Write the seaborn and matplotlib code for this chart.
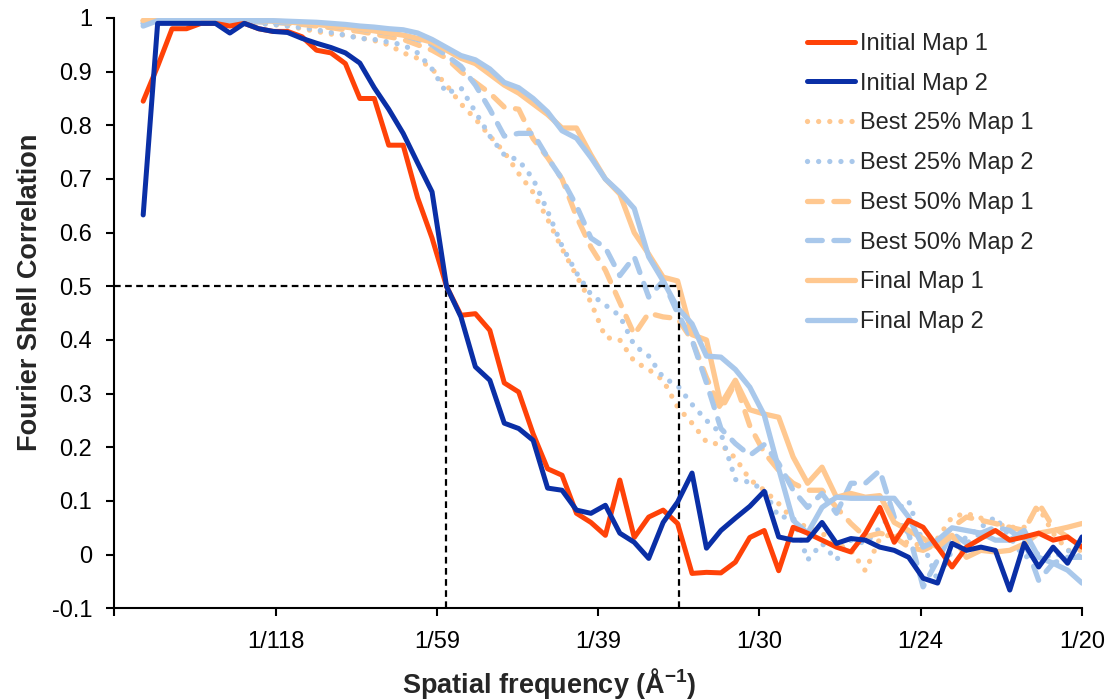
import numpy as np
import matplotlib
matplotlib.use("Agg")
import matplotlib.pyplot as plt
import seaborn as sns

# ---------------- data ----------------
# Fourier shells 2..67, spatial frequency = shell * step (1/Å)
shells = np.arange(2, 68)
shell_step = 0.05 / 67
spatial_freq = shells * shell_step

initial_map_1 = [0.845, 0.91, 0.98, 0.98, 0.99, 0.99, 0.985, 0.99, 0.98, 0.975,
                 0.975, 0.965, 0.94, 0.935, 0.915, 0.85, 0.85, 0.763, 0.763, 0.665,
                 0.59, 0.50, 0.446, 0.449, 0.418, 0.32, 0.303, 0.225, 0.16, 0.148,
                 0.077, 0.06, 0.036, 0.139, 0.032, 0.07, 0.083, 0.058, -0.035, -0.033,
                 -0.034, -0.014, 0.032, 0.045, -0.03, 0.051, 0.04, 0.027, 0.014, 0.005,
                 0.04, 0.088, 0.023, 0.064, 0.051, 0.014, -0.023, 0.014, 0.03, 0.045,
                 0.027, 0.033, 0.04, 0.027, 0.033, 0.014]

initial_map_2 = [0.633, 0.99, 0.99, 0.99, 0.99, 0.99, 0.972, 0.99, 0.98, 0.975,
                 0.973, 0.962, 0.953, 0.945, 0.935, 0.916, 0.87, 0.83, 0.785, 0.73,
                 0.676, 0.50, 0.443, 0.35, 0.325, 0.245, 0.235, 0.213, 0.124, 0.12,
                 0.083, 0.077, 0.092, 0.04, 0.023, -0.007, 0.06, 0.098, 0.152, 0.012,
                 0.045, 0.068, 0.09, 0.118, 0.033, 0.027, 0.027, 0.06, 0.021, 0.03,
                 0.027, 0.014, 0.008, -0.005, -0.044, -0.053, 0.021, 0.008, 0.014, 0.008,
                 -0.066, 0.021, -0.023, 0.014, -0.016, 0.033]

best25_map_1 = [0.995, 0.998, 0.998, 0.997, 0.996, 0.995, 0.993, 0.99, 0.99, 0.988,
                0.985, 0.98, 0.975, 0.97, 0.968, 0.963, 0.958, 0.95, 0.935, 0.925,
                0.905, 0.875, 0.84, 0.812, 0.78, 0.75, 0.71, 0.675, 0.625, 0.57,
                0.52, 0.47, 0.405, 0.40, 0.36, 0.345, 0.325, 0.275, 0.245, 0.21,
                0.205, 0.18, 0.14, 0.12, 0.095, 0.065, 0.05, 0.04, 0.02, 0.008,
                -0.03, 0.03, 0.04, 0.02, 0.018, 0.03, 0.07, 0.077, 0.068, 0.058,
                0.051, 0.051, 0.088, 0.04, 0.008, 0.008]

best25_map_2 = [0.99, 0.997, 0.997, 0.997, 0.997, 0.996, 0.995, 0.993, 0.99, 0.988,
                0.985, 0.982, 0.978, 0.973, 0.968, 0.962, 0.96, 0.955, 0.95, 0.935,
                0.905, 0.86, 0.87, 0.825, 0.78, 0.745, 0.735, 0.70, 0.64, 0.575,
                0.525, 0.485, 0.465, 0.445, 0.39, 0.37, 0.33, 0.315, 0.28, 0.25,
                0.226, 0.14, 0.135, 0.12, 0.07, 0.07, -0.01, 0.021, -0.01, 0.027,
                0.021, 0.05, 0.08, 0.10, 0.02, -0.048, 0.008, 0.033, 0.051, 0.07,
                0.033, -0.005, 0.002, -0.005, 0.008, -0.005]

best50_map_1 = [0.995, 0.998, 0.998, 0.998, 0.997, 0.996, 0.995, 0.994, 0.993, 0.992,
                0.99, 0.988, 0.985, 0.982, 0.978, 0.975, 0.97, 0.965, 0.96, 0.95,
                0.94, 0.925, 0.90, 0.88, 0.86, 0.834, 0.83, 0.775, 0.74, 0.70,
                0.63, 0.573, 0.53, 0.47, 0.41, 0.45, 0.443, 0.44, 0.40, 0.33,
                0.27, 0.32, 0.24, 0.19, 0.157, 0.133, 0.12, 0.12, 0.088, 0.058,
                0.033, 0.04, 0.033, 0.014, 0.008, 0.021, 0.051, 0.07, 0.064, 0.058,
                0.051, 0.045, 0.096, 0.051, 0.033, 0.014]

best50_map_2 = [0.99, 0.997, 0.997, 0.997, 0.996, 0.996, 0.995, 0.994, 0.993, 0.992,
                0.991, 0.99, 0.988, 0.985, 0.983, 0.98, 0.975, 0.972, 0.968, 0.96,
                0.95, 0.93, 0.91, 0.875, 0.83, 0.78, 0.785, 0.785, 0.74, 0.70,
                0.65, 0.59, 0.572, 0.52, 0.555, 0.48, 0.51, 0.45, 0.40, 0.32,
                0.235, 0.207, 0.185, 0.205, 0.17, 0.12, 0.088, 0.114, 0.077, 0.133,
                0.133, 0.157, 0.07, 0.04, -0.06, -0.01, 0.04, 0.021, 0.04, 0.051,
                0.045, 0.027, -0.048, -0.016, -0.005, -0.005]

final_map_1 = [0.995, 0.998, 0.998, 0.998, 0.998, 0.997, 0.997, 0.996, 0.995, 0.994,
               0.993, 0.99, 0.988, 0.985, 0.983, 0.98, 0.976, 0.972, 0.968, 0.962,
               0.955, 0.94, 0.925, 0.915, 0.895, 0.875, 0.86, 0.84, 0.82, 0.795,
               0.795, 0.745, 0.70, 0.672, 0.60, 0.56, 0.517, 0.51, 0.41, 0.40,
               0.28, 0.325, 0.27, 0.262, 0.256, 0.182, 0.133, 0.163, 0.107, 0.114,
               0.107, 0.11, 0.06, 0.045, 0.03, 0.014, 0.036, -0.005, 0.008, 0.005,
               0.008, 0.02, 0.04, 0.045, 0.051, 0.058]

final_map_2 = [0.985, 0.995, 0.997, 0.997, 0.997, 0.997, 0.996, 0.996, 0.995, 0.995,
               0.994, 0.993, 0.992, 0.99, 0.988, 0.985, 0.983, 0.98, 0.978, 0.972,
               0.96, 0.945, 0.93, 0.922, 0.905, 0.88, 0.87, 0.85, 0.825, 0.79,
               0.776, 0.74, 0.70, 0.675, 0.645, 0.555, 0.51, 0.46, 0.43, 0.37,
               0.368, 0.345, 0.312, 0.26, 0.16, 0.064, 0.04, 0.088, 0.107, 0.105,
               0.105, 0.105, 0.105, 0.07, 0.014, 0.027, 0.05, 0.045, 0.04, 0.027,
               0.027, 0.045, -0.005, -0.016, -0.029, -0.053]

series_labels = ["Initial Map 1", "Initial Map 2", "Best 25% Map 1", "Best 25% Map 2",
                 "Best 50% Map 1", "Best 50% Map 2", "Final Map 1", "Final Map 2"]
series_values = [initial_map_1, initial_map_2, best25_map_1, best25_map_2,
                 best50_map_1, best50_map_2, final_map_1, final_map_2]

# FSC = 0.5 resolution markers (1/Å)
fsc_threshold = 0.5
res_initial = 0.01716
res_final = 0.02918

x_tick_pos = [0, 1 / 120, 2 / 120, 3 / 120, 4 / 120, 5 / 120, 6 / 120]
x_tick_labels = ["", "1/118", "1/59", "1/39", "1/30", "1/24", "1/20"]
y_tick_pos = [-0.1, 0, 0.1, 0.2, 0.3, 0.4, 0.5, 0.6, 0.7, 0.8, 0.9, 1.0]
y_tick_labels = ["-0.1", "0", "0.1", "0.2", "0.3", "0.4", "0.5", "0.6", "0.7", "0.8", "0.9", "1"]

# ---------------- styles ----------------
RED = "#ff4208"
DBLUE = "#0a2fa6"
LORANGE = "#ffc890"
LBLUE = "#a9c8eb"
dotted = (0, (0.01, 2.1))
dashed = (0, (2.8, 2.2))
styles = [
    dict(color=RED, linestyle="-", lw=3.6, zorder=4),
    dict(color=DBLUE, linestyle="-", lw=3.6, zorder=5),
    dict(color=LORANGE, linestyle=dotted, lw=3.8, zorder=2),
    dict(color=LBLUE, linestyle=dotted, lw=3.8, zorder=2),
    dict(color=LORANGE, linestyle=dashed, lw=3.8, zorder=2),
    dict(color=LBLUE, linestyle=dashed, lw=3.8, zorder=2),
    dict(color=LORANGE, linestyle="-", lw=3.8, zorder=2),
    dict(color=LBLUE, linestyle="-", lw=3.8, zorder=2),
]

sns.set_style("ticks")
plt.rcParams["font.family"] = ["Liberation Sans", "DejaVu Sans"]
plt.rcParams["mathtext.fontset"] = "custom"
plt.rcParams["mathtext.rm"] = "Liberation Sans"
plt.rcParams["mathtext.bf"] = "Liberation Sans:bold"

fig = plt.figure(figsize=(11.09, 7.0), dpi=100)
ax = fig.add_axes([114.3 / 1109, 1 - 608.3 / 700, (1082 - 114.3) / 1109, (608.3 - 18) / 700])

for label, vals, st in zip(series_labels, series_values, styles):
    sns.lineplot(x=spatial_freq, y=vals, ax=ax, label=label, errorbar=None, sort=False,
                 color=st["color"], linestyle=st["linestyle"], linewidth=st["lw"],
                 zorder=st["zorder"], dash_capstyle="round", solid_capstyle="round",
                 solid_joinstyle="round")

x_min, x_max = 0, 0.05
y_min, y_max = -0.1, 1.0
ax.hlines(fsc_threshold, x_min, res_final, colors="black", linestyles=(0, (3, 2)),
          lw=1.6, zorder=3)
ax.vlines([res_initial, res_final], y_min, fsc_threshold, colors="black",
          linestyles=(0, (3, 2)), lw=1.6, zorder=3)

ax.set_xlim(x_min, x_max)
ax.set_ylim(y_min, y_max)
ax.set_xticks(x_tick_pos)
ax.set_xticklabels(x_tick_labels)
ax.set_yticks(y_tick_pos)
ax.set_yticklabels(y_tick_labels)
ax.tick_params(axis="both", direction="out", length=6, width=1.5, labelsize=17,
               colors="black")
ax.tick_params(axis="y", pad=10)
ax.tick_params(axis="x", pad=10)
for s in ["top", "right"]:
    ax.spines[s].set_visible(False)
for s in ["left", "bottom"]:
    ax.spines[s].set_linewidth(1.5)
    ax.spines[s].set_color("black")

ax.set_xlabel("Spatial frequency (Å$^{\\mathbf{-1}}$)", fontsize=19.5, fontweight="bold")
ax.set_ylabel("Fourier Shell Correlation", fontsize=19.5, fontweight="bold")
ax.xaxis.set_label_coords((549 - 114.3) / 967.7, -0.098)
ax.yaxis.set_label_coords(-0.074, 0.536)

leg = ax.legend(loc="upper left", bbox_to_anchor=(806.7 / 1109, 1 - 33 / 700),
                bbox_transform=fig.transFigure, frameon=False, fontsize=17,
                handlelength=2.05, handletextpad=0.2, labelspacing=0.75,
                borderpad=0, borderaxespad=0)

fig.savefig("out.png", dpi=100)
